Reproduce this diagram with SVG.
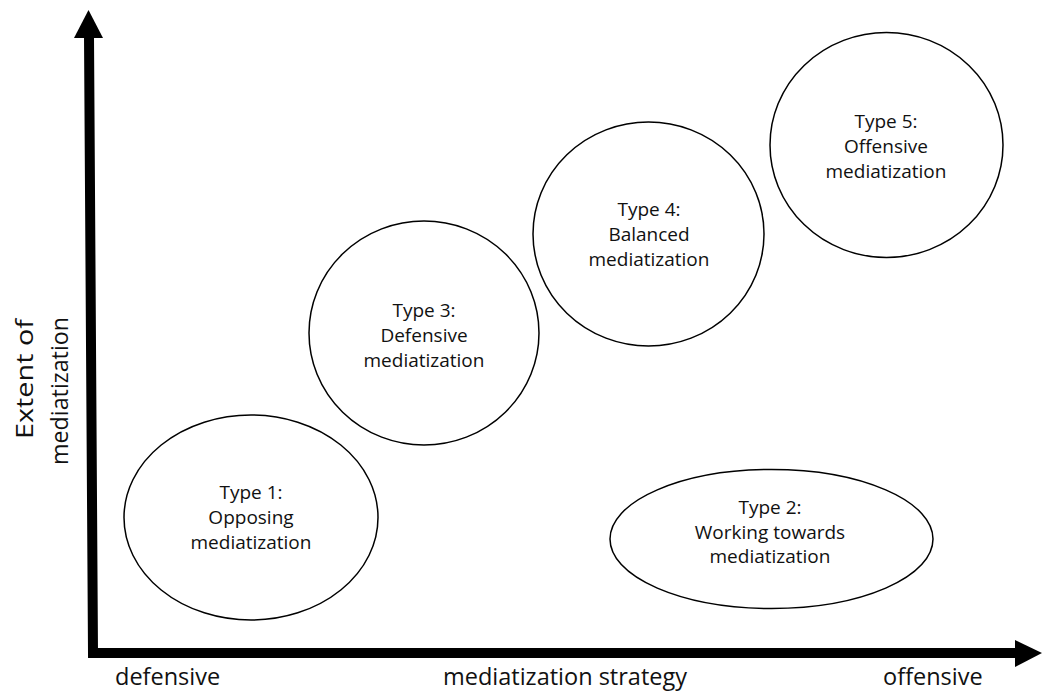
<svg xmlns="http://www.w3.org/2000/svg" width="1045" height="691" viewBox="0 0 1045 691">
  <style>
    .bubble { fill: #ffffff; stroke: #000000; stroke-width: 1.5; }
    .label { font-family: "Open Sans", "Noto Sans", "Liberation Sans", sans-serif; font-size: 19px; fill: #111111; text-anchor: middle; }
    .axis-text { font-family: "Open Sans", "Noto Sans", "Liberation Sans", sans-serif; font-size: 23.5px; fill: #111111; }
    .axis { fill: none; stroke: #000000; stroke-width: 10; stroke-linejoin: miter; }
  </style>
  <rect width="1045" height="691" fill="#ffffff"/>

  <!-- axes -->
  <g id="connectors">
    <polyline class="axis" points="89,36 93,653 1017,653"/>
    <polygon points="88.5,10 74,38 103,38" fill="#000000"/>
    <polygon points="1042,653 1015,640 1015,667" fill="#000000"/>
  </g>

  <!-- axis labels -->
  <g id="y-axis-label" class="axis-text">
    <text transform="rotate(-90)" x="-439" y="33" textLength="120" lengthAdjust="spacingAndGlyphs">Extent of</text>
    <text transform="rotate(-90)" x="-465" y="68" textLength="148" lengthAdjust="spacingAndGlyphs">mediatization</text>
  </g>
  <g id="x-axis-labels" class="axis-text">
    <text x="115" y="685">defensive</text>
    <text x="565" y="685" text-anchor="middle">mediatization strategy</text>
    <text x="883" y="685">offensive</text>
  </g>

  <!-- types -->
  <g id="type1">
    <ellipse class="bubble" cx="251" cy="517.5" rx="127" ry="102.5"/>
    <text class="label" x="251" y="499">Type 1:</text>
    <text class="label" x="251" y="524">Opposing</text>
    <text class="label" x="251" y="549">mediatization</text>
  </g>
  <g id="type2">
    <ellipse class="bubble" cx="771.5" cy="539" rx="161.5" ry="69.5"/>
    <text class="label" x="770" y="514">Type 2:</text>
    <text class="label" x="770" y="539">Working towards</text>
    <text class="label" x="770" y="563">mediatization</text>
  </g>
  <g id="type3">
    <ellipse class="bubble" cx="424" cy="333" rx="115" ry="112"/>
    <text class="label" x="424" y="317">Type 3:</text>
    <text class="label" x="424" y="342">Defensive</text>
    <text class="label" x="424" y="367">mediatization</text>
  </g>
  <g id="type4">
    <ellipse class="bubble" cx="648.5" cy="234" rx="115.5" ry="112"/>
    <text class="label" x="649" y="216">Type 4:</text>
    <text class="label" x="649" y="241">Balanced</text>
    <text class="label" x="649" y="266">mediatization</text>
  </g>
  <g id="type5">
    <ellipse class="bubble" cx="886.5" cy="145" rx="116.5" ry="112.5"/>
    <text class="label" x="886" y="128">Type 5:</text>
    <text class="label" x="886" y="153">Offensive</text>
    <text class="label" x="886" y="178">mediatization</text>
  </g>
</svg>
